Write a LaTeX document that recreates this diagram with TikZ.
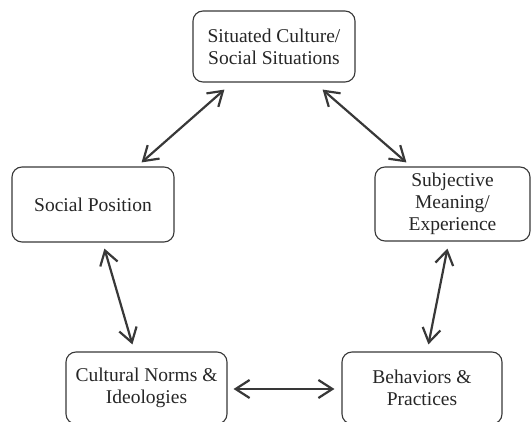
\documentclass[tikz,border=0pt]{standalone}
\usepackage{fontspec}
\setmainfont{Liberation Serif}
\usetikzlibrary{arrows.meta}
\definecolor{inkline}{HTML}{383838}
\definecolor{inktext}{HTML}{262626}
\tikzset{
  concept/.style={draw=inkline, line width=1.15pt, rounded corners=10pt,
    align=center, inner sep=0pt, text=inktext,
    font=\fontsize{19.5}{21.7}\selectfont},
  barb/.tip={Straight Barb[length=14pt,width=18pt,line width=2.2pt]},
  link/.style={draw=inkline, line width=2.2pt, barb-barb}
}
\begin{document}
\begin{tikzpicture}[x=1pt,y=-1pt]
  \useasboundingbox (0,0) rectangle (531,422);
  \node[concept, minimum width=162pt, minimum height=71pt] (top) at (274,46.5)
    {Situated Culture/\\Social Situations};
  \node[concept, minimum width=162pt, minimum height=75pt] (social) at (93,204.5)
    {Social Position};
  \node[concept, minimum width=155pt, minimum height=74pt] (subj) at (452.5,204)
    {Subjective\\Meaning/\\Experience};
  \node[concept, minimum width=161pt, minimum height=72pt] (norms) at (146.5,388)
    {Cultural Norms \&\\Ideologies};
  \node[concept, minimum width=160pt, minimum height=72pt] (behav) at (422,388)
    {Behaviors \&\\Practices};

  \draw[link] ([xshift=32pt,yshift=-7pt]top.south west) -- ([xshift=-33pt,yshift=4pt]social.north east);
  \draw[link] ([xshift=-33pt,yshift=-7pt]top.south east) -- ([xshift=32pt,yshift=4pt]subj.north west);
  \draw[link] ([xshift=93pt,yshift=-6pt]social.south west) -- ([xshift=67pt,yshift=7pt]norms.north west);
  \draw[link] ([xshift=73pt,yshift=-7pt]subj.south west) -- ([xshift=87pt,yshift=7pt]behav.north west);
  \draw[link] ([xshift=6pt,yshift=-1pt]norms.east) -- ([xshift=-7pt,yshift=-1pt]behav.west);
\end{tikzpicture}
\end{document}
